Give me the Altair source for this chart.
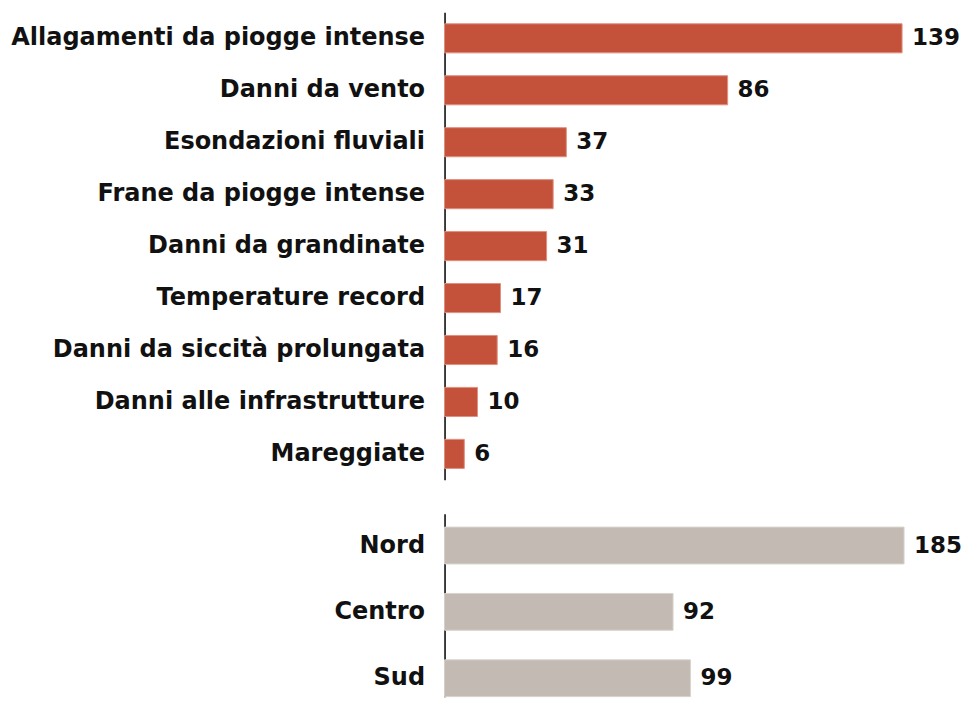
import altair as alt
import pandas as pd

eventi = ["Allagamenti da piogge intense", "Danni da vento", "Esondazioni fluviali",
          "Frane da piogge intense", "Danni da grandinate", "Temperature record",
          "Danni da siccità prolungata", "Danni alle infrastrutture", "Mareggiate"]
eventi_val = [139, 86, 37, 33, 31, 17, 16, 10, 6]

aree = ["Nord", "Centro", "Sud"]
aree_val = [185, 92, 99]

FONT = "DejaVu Sans"

df1 = pd.DataFrame({"cat": eventi, "val": eventi_val})
df2 = pd.DataFrame({"cat": aree, "val": aree_val})


def panel(df, order, color, stroke, width, height, pad_inner, pad_outer, align):
    y = alt.Y("cat:N", sort=order, title=None,
              scale=alt.Scale(paddingInner=pad_inner, paddingOuter=pad_outer, align=align),
              axis=alt.Axis(domain=True, domainColor="#000000", domainWidth=1.5,
                            ticks=False, labelPadding=20, labelFont=FONT,
                            labelFontSize=24, labelFontWeight="bold",
                            labelColor="#111111", labelLimit=600))
    x = alt.X("val:Q", title=None, axis=None,
              scale=alt.Scale(domain=[0, max(df["val"])], nice=False))
    base = alt.Chart(df).encode(y=y, x=x)
    bars = base.mark_bar(color=color, stroke=stroke, strokeWidth=1)
    text = base.mark_text(align="left", baseline="middle", dx=10, font=FONT,
                          fontSize=23, fontWeight="bold", color="#111111").encode(
        text="val:Q")
    return (bars + text).properties(width=width, height=height)


top = panel(df1, eventi, "#c4513a", "#e0907f", 458, 468, 0.44, 0.22, 0.5)
bottom = panel(df2, aree, "#c2bab3", "#d9d3cd", 460, 183, 0.445, 0.1, 1)

chart = (alt.vconcat(top, bottom, spacing=34)
         .properties(padding={"left": 2, "top": 4, "right": 0, "bottom": 0})
         .configure_view(stroke=None))

chart.save("out.html", embed_options={"renderer": "svg", "actions": False})
